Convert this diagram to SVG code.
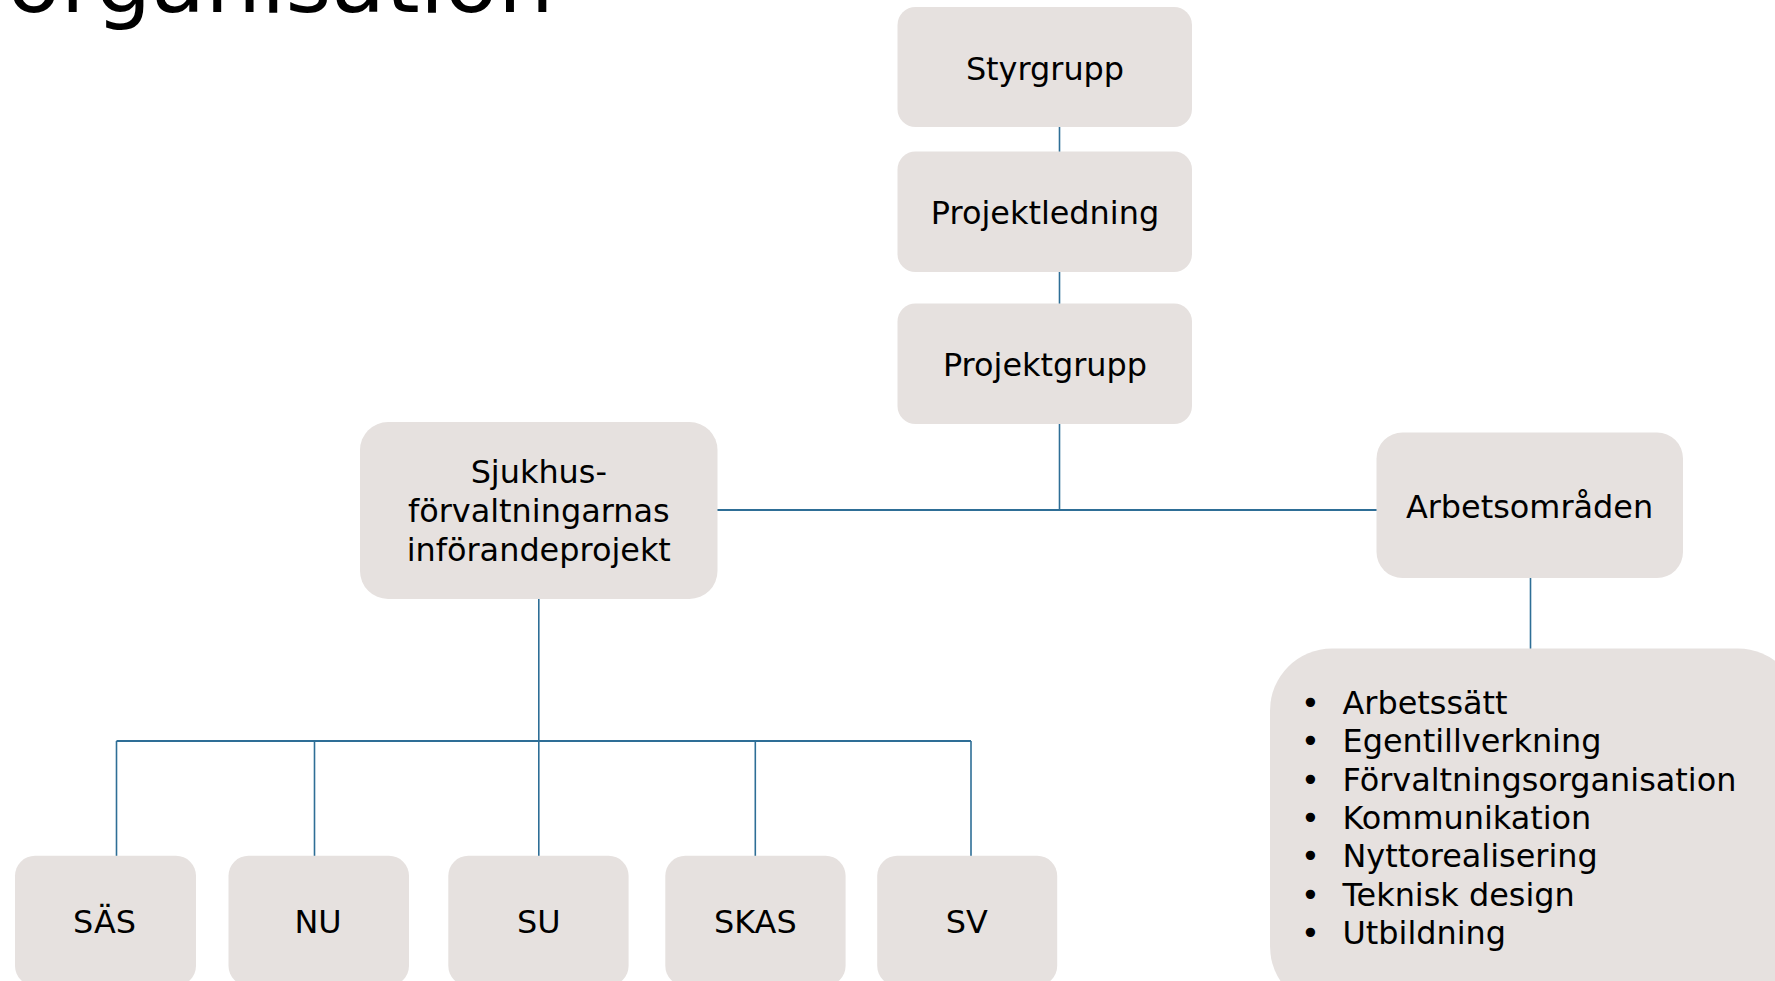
<svg xmlns="http://www.w3.org/2000/svg" width="1775" height="981" viewBox="0 0 1775 981">
<style>
.box{fill:#e6e1df}
.t{font-family:"DejaVu Sans","Verdana","Liberation Sans",sans-serif;font-size:31.9px;fill:#000;text-anchor:middle}
.l{font-family:"DejaVu Sans","Verdana","Liberation Sans",sans-serif;font-size:31.9px;fill:#000}
.c{stroke:#2e6e96;fill:none}
</style>
<rect width="1775" height="981" fill="#fff"/>
<text x="7" y="12" style="font-family:'DejaVu Sans',Verdana,sans-serif;font-size:88px;fill:#000">organisation</text>
<g id="connectors">
<line class="c" stroke-width="1.6" x1="1059.5" y1="127" x2="1059.5" y2="152"/>
<line class="c" stroke-width="1.6" x1="1059.5" y1="272" x2="1059.5" y2="304"/>
<line class="c" stroke-width="1.6" x1="1059.5" y1="423" x2="1059.5" y2="510"/>
<line class="c" stroke-width="2" x1="717" y1="510" x2="1377" y2="510"/>
<line class="c" stroke-width="1.6" x1="1530.5" y1="578" x2="1530.5" y2="649"/>
<line class="c" stroke-width="1.6" x1="538.8" y1="599" x2="538.8" y2="856"/>
<line class="c" stroke-width="2" x1="116.5" y1="741" x2="971" y2="741"/>
<line class="c" stroke-width="1.6" x1="116.5" y1="741" x2="116.5" y2="856"/>
<line class="c" stroke-width="1.6" x1="314.5" y1="741" x2="314.5" y2="856"/>
<line class="c" stroke-width="1.6" x1="755.3" y1="741" x2="755.3" y2="856"/>
<line class="c" stroke-width="1.6" x1="971" y1="741" x2="971" y2="856"/>
</g>
<g id="styrgrupp">
<rect class="box" x="897.5" y="7" width="294.5" height="120" rx="18"/>
<text class="t" x="1045" y="79.5">Styrgrupp</text>
</g>
<g id="projektledning">
<rect class="box" x="897.5" y="151.5" width="294.5" height="120.5" rx="18"/>
<text class="t" x="1045" y="223.5">Projektledning</text>
</g>
<g id="projektgrupp">
<rect class="box" x="897.5" y="303.5" width="294.5" height="120.5" rx="18"/>
<text class="t" x="1045" y="375.5">Projektgrupp</text>
</g>
<g id="sjukhus">
<rect class="box" x="360" y="422" width="357.5" height="177" rx="28"/>
<text class="t" x="538.8" y="482.5">Sjukhus-</text>
<text class="t" x="538.8" y="521.5">förvaltningarnas</text>
<text class="t" x="538.8" y="560.5">införandeprojekt</text>
</g>
<g id="arbetsomraden">
<rect class="box" x="1376.5" y="432.5" width="306.5" height="145.5" rx="26"/>
<text class="t" x="1529.5" y="518">Arbetsområden</text>
</g>
<g id="lista">
<rect class="box" x="1270" y="648.5" width="530" height="360" rx="62"/>
<g class="l">
<text x="1310.5" y="714" text-anchor="middle">•</text><text x="1342.5" y="714">Arbetssätt</text>
<text x="1310.5" y="752.3" text-anchor="middle">•</text><text x="1342.5" y="752.3">Egentillverkning</text>
<text x="1310.5" y="790.6" text-anchor="middle">•</text><text x="1342.5" y="790.6">Förvaltningsorganisation</text>
<text x="1310.5" y="828.9" text-anchor="middle">•</text><text x="1342.5" y="828.9">Kommunikation</text>
<text x="1310.5" y="867.2" text-anchor="middle">•</text><text x="1342.5" y="867.2">Nyttorealisering</text>
<text x="1310.5" y="905.5" text-anchor="middle">•</text><text x="1342.5" y="905.5">Teknisk design</text>
<text x="1310.5" y="943.8" text-anchor="middle">•</text><text x="1342.5" y="943.8">Utbildning</text>
</g>
</g>
<g id="sas">
<rect class="box" x="15" y="855.8" width="181" height="130" rx="20"/>
<text class="t" x="104.5" y="933">SÄS</text>
</g>
<g id="nu">
<rect class="box" x="228.5" y="855.8" width="180.5" height="130" rx="20"/>
<text class="t" x="318" y="933">NU</text>
</g>
<g id="su">
<rect class="box" x="448.3" y="855.8" width="180.3" height="130" rx="20"/>
<text class="t" x="538.8" y="933">SU</text>
</g>
<g id="skas">
<rect class="box" x="665.3" y="855.8" width="180.3" height="130" rx="20"/>
<text class="t" x="755.3" y="933">SKAS</text>
</g>
<g id="sv">
<rect class="box" x="877.2" y="855.8" width="180" height="130" rx="20"/>
<text class="t" x="966.7" y="933">SV</text>
</g>
</svg>
